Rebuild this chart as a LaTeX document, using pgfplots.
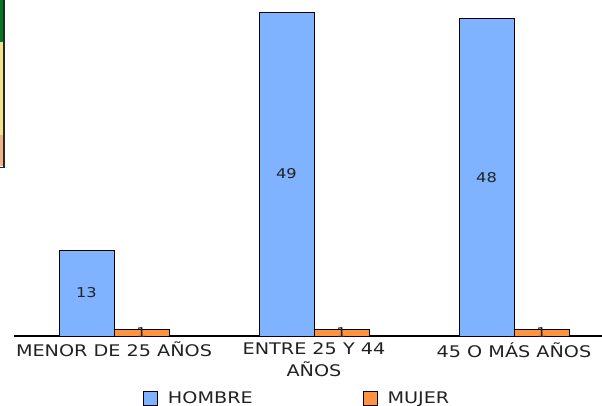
\documentclass[border=0pt]{standalone}
\usepackage{fontspec}
\setmainfont[FakeStretch=1.2]{DejaVu Sans}
\usepackage{pgfplots}
\pgfplotsset{compat=1.18}
\definecolor{hombre}{HTML}{80B3FF}
\definecolor{mujer}{HTML}{FF9340}
\definecolor{txt}{HTML}{222222}
\definecolor{stripG}{HTML}{007A1E}
\definecolor{stripY}{HTML}{F5E38C}
\definecolor{stripO}{HTML}{F2B283}

\begin{document}
\begin{tikzpicture}
\useasboundingbox (0,0) rectangle (602bp,406bp);
% remnant of a cut-off box at the left edge
\fill[stripG] (0,364bp) rectangle (3.5bp,406bp);
\fill[stripY] (0,271bp) rectangle (3.5bp,364bp);
\fill[stripO] (0,240bp) rectangle (3.5bp,271bp);
\draw[black!85, line width=1.4bp] (3.8bp,406bp) -- (3.8bp,238.5bp) -- (0,238.5bp);

\begin{axis}[
    at={(14bp,70bp)}, anchor=south west,
    scale only axis,
    width=600bp, height=336bp,
    xmin=-0.5, xmax=2.5,
    ymin=0, ymax=50.83,
    hide y axis,
    axis x line*=bottom,
    x axis line style={-, black, line width=1.5bp},
    ybar=0pt,
    bar width=55bp,
    xtick={0,1,2},
    xticklabels={MENOR DE 25 AÑOS, {ENTRE 25 Y 44\\AÑOS}, 45 O MÁS AÑOS},
    major tick length=0pt,
    xticklabel style={align=center, text=txt, inner sep=6bp,
        font=\fontsize{16bp}{22bp}\selectfont},
    /pgf/number format/assume math mode=true,
    visualization depends on=y \as \rawy,
    nodes near coords,
    nodes near coords style={anchor=center, inner sep=0pt, text=txt,
        shift={(axis direction cs:0,-\rawy/2)},
        font=\fontsize{13.5bp}{15bp}\selectfont},
    legend columns=2,
    legend image code/.code={\draw[#1] (0bp,-7bp) rectangle (14bp,7bp);},
    legend style={draw=none, fill=none, at={(0.215,-0.1845)}, anchor=west,
        inner sep=0pt,
        nodes={inner sep=0pt, anchor=west, text=txt,
            font=\fontsize{16bp}{19bp}\selectfont},
        /tikz/every odd column/.append style={column sep=10bp},
        /tikz/every even column/.append style={column sep=110bp}},
]
\addplot[fill=hombre, draw=black, line width=0.8bp] coordinates {(0,13) (1,49) (2,48)};
\addlegendentry{HOMBRE}
\addplot[fill=mujer, draw=black, line width=0.8bp] coordinates {(0,1) (1,1) (2,1)};
\addlegendentry{MUJER}
\end{axis}
\end{tikzpicture}
\end{document}
